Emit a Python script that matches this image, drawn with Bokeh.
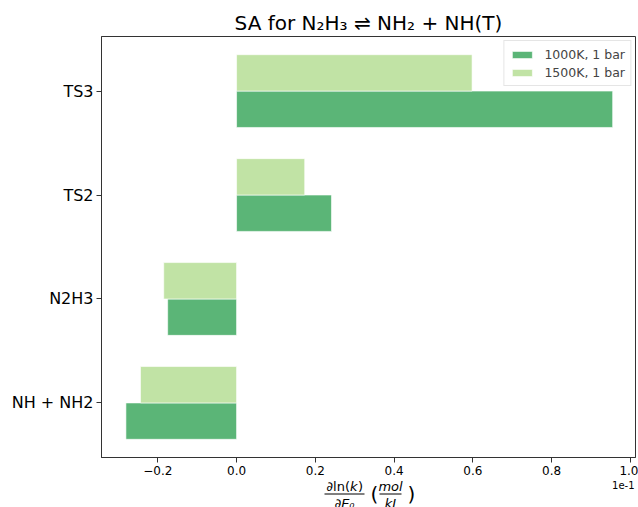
from bokeh.plotting import figure
from bokeh.models import ColumnDataSource, Range1d, FixedTicker
from bokeh.layouts import column
from bokeh.transform import dodge
from bokeh.core.properties import value
from bokeh.embed import file_html
from bokeh.resources import INLINE

# ---- data ----
species = ["NH + NH2", "N2H3", "TS2", "TS3"]
sa_1000K = [-0.281, -0.175, 0.241, 0.955]
sa_1500K = [-0.244, -0.185, 0.173, 0.598]
series_labels = ["1000K, 1 bar", "1500K, 1 bar"]
x_ticks = [-0.2, 0.0, 0.2, 0.4, 0.6, 0.8, 1.0]
x_tick_labels = ["\u22120.2", "0.0", "0.2", "0.4", "0.6", "0.8", "1.0"]
offset_text = "1e-1"
title_text = "SA for N\u2082H\u2083 \u21cc NH\u2082 + NH(T)"

pos = list(range(len(species)))
src = ColumnDataSource(dict(pos=pos, species=species, v1000=sa_1000K, v1500=sa_1500K))

FONT = "DejaVu Sans"
DARK = "#5bb577"
LIGHT = "#c1e3a5"
AXC = "#333333"

W = 638
FL = 101
FW, FH = 534, 421
FR = W - FL - FW

p = figure(frame_width=FW, frame_height=FH,
           x_range=Range1d(-0.343, 1.013), y_range=Range1d(-0.525, 3.525),
           output_backend="svg", toolbar_location=None,
           min_border_left=FL, min_border_right=FR,
           min_border_top=36, min_border_bottom=22)

p.title.text = title_text
p.title.align = "center"
p.title.text_font = FONT
p.title.text_font_size = "20px"
p.title.text_font_style = "normal"
p.title.text_color = "black"
p.title.standoff = 4

p.hbar(y=dodge("pos", -0.175), left=0, right="v1000", height=0.35, source=src,
       fill_color=DARK, line_color="white", line_alpha=0.6, line_width=1,
       legend_label=series_labels[0])
p.hbar(y=dodge("pos", 0.175), left=0, right="v1500", height=0.35, source=src,
       fill_color=LIGHT, line_color="white", line_alpha=0.6, line_width=1,
       legend_label=series_labels[1])

p.xgrid.visible = False
p.ygrid.visible = False
p.outline_line_color = AXC
p.outline_line_width = 1
p.outline_line_alpha = 1
p.background_fill_color = "white"
p.border_fill_color = "white"

p.xaxis.ticker = FixedTicker(ticks=x_ticks)
p.xaxis.major_label_overrides = dict(zip(x_ticks, x_tick_labels))
p.yaxis.ticker = FixedTicker(ticks=pos)
p.yaxis.major_label_overrides = dict(zip(pos, species))
for ax, fs in ((p.xaxis, "12px"), (p.yaxis, "16px")):
    ax.axis_line_color = AXC
    ax.major_tick_line_color = AXC
    ax.major_tick_out = 5
    ax.major_tick_in = 0
    ax.minor_tick_line_color = None
    ax.major_label_standoff = 3
    ax.major_label_text_font = FONT
    ax.major_label_text_font_size = fs
    ax.major_label_text_color = "black"

lg = p.legend[0]
lg.location = "top_right"
lg.margin = 4
lg.padding = 5
lg.spacing = 2
lg.glyph_width = 25
lg.glyph_height = 9
lg.label_height = 16
lg.label_standoff = 10
lg.label_text_font = FONT
lg.label_text_font_size = "12.5px"
lg.border_line_color = "#cccccc"
lg.border_line_width = 1
lg.background_fill_alpha = 0.8

# ---- x-axis label strip: d ln(k)/dE0 (mol/kJ) and the 1e-1 offset text ----
# coordinates of this strip are page pixels (x) and pixels below the main plot (y)
H2 = 28
q = figure(frame_width=FW, frame_height=H2, x_range=Range1d(FL, FL + FW), y_range=Range1d(H2, 0),
           output_backend="svg", toolbar_location=None,
           x_axis_type=None, y_axis_type=None,
           min_border_left=FL, min_border_right=FR, min_border_top=0, min_border_bottom=0)
q.grid.visible = False
q.outline_line_color = None
q.background_fill_color = "white"
q.border_fill_color = "white"


def txt(x, y, s, size="13px", style="normal", align="center"):
    q.text(x=[x], y=[y], text=[s], text_font=value(FONT), text_font_size=size,
           text_font_style=style, text_align=align, text_baseline="middle",
           text_color="black")


txt(349.5, 7, "\u2202ln(", align="right")
txt(349.5, 7, "k", style="italic", align="left")
txt(357.5, 7, ")", align="left")
txt(344, 24, "\u2202E\u2080", style="italic")
txt(374, 14, "(", size="20px")
txt(390, 7, "mol", style="italic")
txt(390, 24, "kJ", style="italic")
txt(411, 14, ")", size="20px")
q.segment(x0=[324, 379], x1=[364, 401], y0=[14.5, 14.5], y1=[14.5, 14.5],
          line_color="black", line_width=1)
txt(634, 5, offset_text, size="10px", align="right")

layout = column(p, q, spacing=0)
open("out.html", "w").write(file_html(layout, INLINE))
